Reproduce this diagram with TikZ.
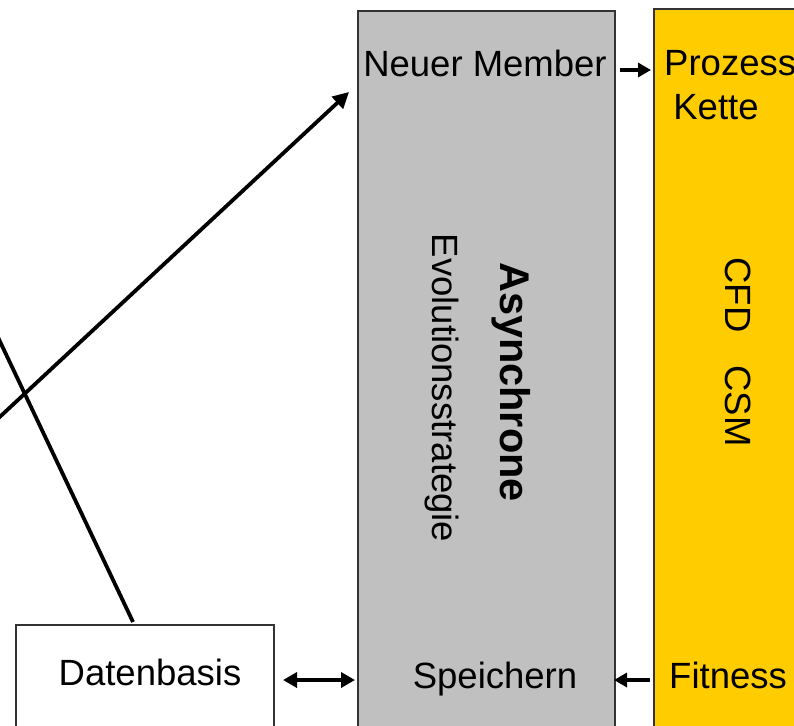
\documentclass[tikz,border=0pt]{standalone}
\usepackage{fontspec}
\setmainfont{Liberation Sans}
\usetikzlibrary{arrows.meta}
\definecolor{boxgray}{HTML}{C0C0C0}
\definecolor{boxgold}{HTML}{FFCC00}
\begin{document}
\begin{tikzpicture}[x=1pt,y=-1pt,
  lbl/.style={font=\fontsize{36.5}{42}\selectfont, inner sep=0pt},
  panel/.style={draw=black!80, line width=1.6pt, inner sep=0pt},
  conn/.style={line width=3.8pt},
  small/.style={line width=3.6pt, -{Triangle[length=13pt,width=14pt]}},
  bigtip/.style={-{Triangle[length=16pt,width=16pt]}}]
\useasboundingbox (0,0) rectangle (794,725);
% panels
\node[panel, fill=boxgray, minimum width=257, minimum height=740, anchor=north west] (es) at (357,10) {};
\node[panel, fill=boxgold, minimum width=160, minimum height=740, anchor=north west] (sim) at (653,8) {};
\node[panel, fill=white, minimum width=258, minimum height=120, anchor=north west] (db) at (15,624) {};
% labels
\node[lbl] (neu) at (485,63) {Neuer Member};
\node[lbl, anchor=west] (proz) at (664,63) {Prozess};
\node[lbl] (kette) at (716,107) {Kette};
\node[lbl, rotate=-90, font=\fontsize{41.5}{46}\selectfont\bfseries] (async) at (511,382) {Asynchrone};
\node[lbl, rotate=-90] (evo) at (442,388) {Evolutionsstrategie};
\node[lbl, rotate=-90] (cfd) at (738,352) {CFD\hspace{0.9em}CSM};
\node[lbl, anchor=base] (spei) at (495,688) {Speichern};
\node[lbl, anchor=base west] (fit) at (669,688) {Fitness};
\node[lbl, anchor=base] (dbt) at (150,685) {Datenbasis};
% connectors
\coordinate (a0) at (-10,426);
\coordinate (a1) at (349,92);
\coordinate (b0) at (-5,331);
\coordinate (b1) at (133,622);
\draw[conn, bigtip] (a0) -- (a1);
\draw[conn] (b0) -- (b1);
\draw[small] (620,70) -- (651,70);
\draw[small] (650,680) -- (614,680);
\draw[line width=3.6pt, {Triangle[length=14pt,width=15pt]}-{Triangle[length=14pt,width=15pt]}] (283,680) -- (355,680);
\end{tikzpicture}
\end{document}
